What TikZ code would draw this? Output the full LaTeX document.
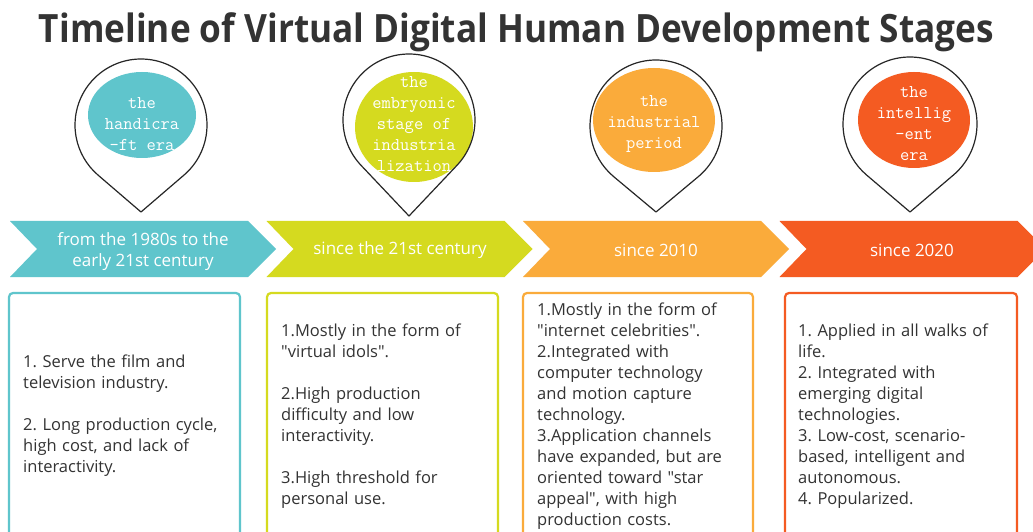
\documentclass[tikz,border=0pt]{standalone}
\usepackage{fontspec}
\setmainfont{Open Sans}[Ligatures=TeXOff]
\usetikzlibrary{calc}

\definecolor{cTeal}{HTML}{5FC5CC}
\definecolor{cLime}{HTML}{D5DA1F}
\definecolor{cAmber}{HTML}{FAAB3B}
\definecolor{cFlame}{HTML}{F45B22}
\definecolor{ink}{HTML}{333333}

% teardrop outline: centre x, centre y, radius, distance from centre to tip
\newcommand\droppin[4]{%
  \draw[pinline] (#1,{#2-#4}) -- ($(#1,#2)+({-90+acos(#3/#4)}:#3)$)
    arc[start angle={-90+acos(#3/#4)}, end angle={270-acos(#3/#4)}, radius=#3] -- cycle;}

\begin{document}
\frenchspacing
\begin{tikzpicture}[x=1pt,y=1pt,
  pinline/.style={draw=black!85, line width=1.2pt, line join=round},
  eratext/.style={font=\ttfamily\fontsize{18}{21}\selectfont, text=white, align=center, inner sep=0pt},
  bandtext/.style={font=\fontsize{17}{21}\selectfont, text=white, align=center, inner sep=0pt},
  boxtext/.style={font=\fontsize{16.5}{21}\selectfont, text=ink, align=left, text width=228pt, inner sep=0pt, anchor=west},
  infobox/.style={line width=2.2pt, rounded corners=4pt}]

\clip (0,0) rectangle (1033,531);
\fill[white] (0,0) rectangle (1033,531);

% title
\node[anchor=base, inner sep=0pt, text=ink] (title) at (516.5,488)
  {\resizebox{955pt}{\height}{\fontsize{39}{39}\selectfont\bfseries Timeline of Virtual Digital Human Development Stages}};

% coloured era ellipses
\fill[cTeal]  (142,416) ellipse[x radius=54, y radius=43];
\fill[cLime]  (414,404) ellipse[x radius=59, y radius=55];
\fill[cAmber] (654,411) ellipse[x radius=61, y radius=52];
\fill[cFlame] (914,411) ellipse[x radius=56, y radius=48];

% pin outlines
\droppin{141}{406}{66}{87}
\droppin{409}{411}{66}{96}
\droppin{656}{405}{66}{86}
\droppin{910}{407}{67}{88}

% era names
\node[eratext] (era1) at (142,407) {the\\handicra\\-ft era};
\node[eratext] (era2) at (414,407) {the\\embryonic\\stage of\\industria\\lization};
\node[eratext] (era3) at (654,407) {the\\industrial\\period};
\node[eratext] (era4) at (914,407) {the\\intellig\\-ent\\era};

% chevron band
\foreach \xo/\col in {10/cTeal, 266.5/cLime, 523/cAmber, 779.5/cFlame}{
  \fill[\col] (\xo,310) -- ({\xo+238},310) -- ({\xo+266},282) -- ({\xo+238},254)
    -- (\xo,254) -- ({\xo+27},282) -- cycle;
}
\node[bandtext] (band1) at (143,279) {from the 1980s to the\\early 21st century};
\node[bandtext] (band2) at (400,281) {since the 21st century};
\node[bandtext] (band3) at (656,281) {since 2010};
\node[bandtext] (band4) at (912,281) {since 2020};

% description boxes
\draw[infobox, cTeal]  (9,238) rectangle (240,-20);
\draw[infobox, cLime]  (267,238) rectangle (498,-20);
\draw[infobox, cAmber] (523,238) rectangle (753,-20);
\draw[infobox, cFlame] (785,238) rectangle (1017,-20);

\node[boxtext] (desc1) at (23,115) {1. Serve the film and\\television industry.\\[21pt]2. Long production cycle,\\high cost, and lack of\\interactivity.};
\node[boxtext] (desc2) at (281,115) {1.Mostly in the form of\\"virtual idols".\\[21pt]2.High production\\difficulty and low\\interactivity.\\[21pt]3.High threshold for\\personal use.};
\node[boxtext] (desc3) at (537,115) {1.Mostly in the form of\\"internet celebrities".\\2.Integrated with\\computer technology\\and motion capture\\technology.\\3.Application channels\\have expanded, but are\\oriented toward "star\\appeal", with high\\production costs.};
\node[boxtext] (desc4) at (798,115) {1. Applied in all walks of\\life.\\2. Integrated with\\emerging digital\\technologies.\\3. Low-cost, scenario-\\based, intelligent and\\autonomous.\\4. Popularized.};
\end{tikzpicture}
\end{document}
